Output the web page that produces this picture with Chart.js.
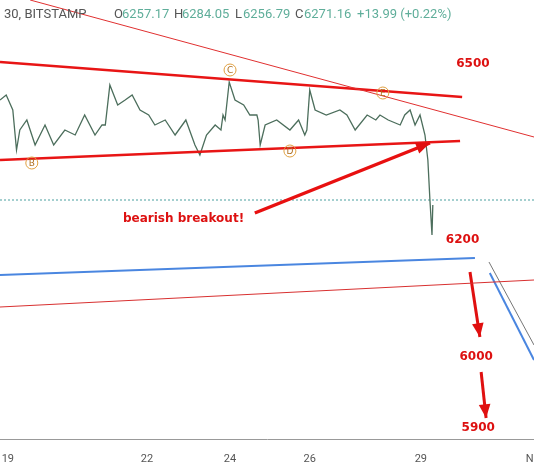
<!DOCTYPE html><html><head><script src="https://cdn.jsdelivr.net/npm/chart.js@4"></script>
<style>body{margin:0;background:#fff}#w{width:534px;height:462px}</style></head><body><div id="w"><canvas id="c"></canvas></div>
<script>
const priceDays=[18.8,18.95,19.11,19.2,19.28,19.45,19.65,19.89,20.1,20.37,20.62,20.85,21.1,21.27,21.35,21.46,21.65,21.83,22.0,22.19,22.4,22.55,22.8,23.04,23.3,23.52,23.64,23.8,24.01,24.15,24.2,24.25,24.35,24.49,24.7,24.85,25.02,25.05,25.1,25.22,25.5,25.82,26.03,26.18,26.23,26.3,26.43,26.7,27.03,27.2,27.4,27.69,27.9,28.0,28.2,28.49,28.6,28.73,28.85,28.97,29.09,29.16,29.21,29.26,29.28];
const priceVals=[6470,6480,6450,6370,6410,6430,6380,6420,6380,6410,6400,6440,6400,6420,6420,6500,6460,6470,6480,6450,6440,6420,6430,6400,6430,6380,6360,6400,6420,6410,6440,6430,6506,6470,6460,6440,6440,6430,6380,6420,6430,6410,6430,6400,6410,6490,6450,6440,6450,6440,6410,6440,6430,6440,6430,6420,6440,6450,6420,6440,6400,6350,6270,6200,6260];
const tickVals=[18.99,22.36,24.37,26.3,28.99,31.7];
const tickLabels=['19','22','24','26','29','No'];
const thinRedA=[[19.53,6670],[31.73,6396]];
const upperLine=[[18.8,6546],[29.99,6476]];
const lowerLine=[[18.8,6350],[29.94,6388]];
const blueLine=[[18.8,6120],[30.3,6154]];
const thinRedB=[[18.8,6056],[31.73,6110]];
const blueDown=[[30.66,6124],[31.73,5950]];
const grayDown=[[30.64,6146],[31.73,5980]];
const bigArrow=[[24.97,6244],[29.21,6384]];
const arrow1=[[30.18,6126],[30.42,5996]];
const arrow2=[[30.45,5926],[30.57,5834]];
const currentPrice=6270;
const waveLabels=['B','C','D','E'];
const wavePts=[[19.57,6344],[24.37,6530],[25.82,6368],[28.07,6484]];
const priceTexts=[['6500',30.25,6542],['6200',30.0,6190],['6000',30.33,5956],['5900',30.38,5814]];
const pts=a=>a.map(p=>({x:p[0],y:p[1]}));
const ln=(d,c,w)=>({type:'line',data:pts(d),borderColor:c,borderWidth:w,pointRadius:0,fill:false,tension:0});
const arrowIdx=[7,8,9];
const plug={id:'ann',afterDatasetsDraw(ch){
 const g=ch.ctx,x=ch.scales.x,y=ch.scales.y;
 arrowIdx.forEach(i=>{const d=ch.data.datasets[i].data;const x1=x.getPixelForValue(d[0].x),y1=y.getPixelForValue(d[0].y),x2=x.getPixelForValue(d[1].x),y2=y.getPixelForValue(d[1].y);
  const a=Math.atan2(y2-y1,x2-x1),L=15,W=0.4;g.fillStyle='#e01010';g.beginPath();g.moveTo(x2,y2);
  g.lineTo(x2-L*Math.cos(a-W),y2-L*Math.sin(a-W));g.lineTo(x2-L*Math.cos(a+W),y2-L*Math.sin(a+W));g.fill();});
 g.font='9px DejaVu Sans';g.textAlign='center';g.textBaseline='middle';
 wavePts.forEach((p,i)=>{const px=x.getPixelForValue(p[0]),py=y.getPixelForValue(p[1]);g.strokeStyle='#e0a040';g.lineWidth=1;g.beginPath();g.arc(px,py,6,0,7);g.stroke();g.fillStyle='#b07020';g.fillText(waveLabels[i],px,py+0.5);});
 g.font='bold 12px DejaVu Sans';g.fillStyle='#dd1111';g.textAlign='center';
 priceTexts.forEach(t=>g.fillText(t[0],x.getPixelForValue(t[1]),y.getPixelForValue(t[2])));
 g.textAlign='left';g.fillText('bearish breakout!',123,y.getPixelForValue(6232));
 g.font='13px Roboto';g.fillStyle='#555';g.fillText('30, BITSTAMP',4,15);
 const parts=[['O',114],['6257.17',122],['H',174],['6284.05',182],['L',235],['6256.79',243],['C',295],['6271.16',304],['+13.99 (+0.22%)',357]];
 parts.forEach((p,i)=>{g.fillStyle=(i<8&&i%2==0)?'#555':'#5fae9a';g.fillText(p[0],p[1],15);});
}};
new Chart(document.getElementById('c'),{type:'line',data:{datasets:[
 ln(thinRedA,'#e03030',1),ln(upperLine,'#e81515',2.5),ln(lowerLine,'#e81515',2.5),ln(blueLine,'#4a86e0',2),ln(thinRedB,'#d83030',1),
 ln(blueDown,'#4a86e0',2),ln(grayDown,'#777',1),ln(bigArrow,'#e81010',3.5),ln(arrow1,'#e01010',3),ln(arrow2,'#e01010',3),
 {type:'line',data:priceDays.map((d,i)=>({x:d,y:priceVals[i]})),borderColor:'#4c6e5c',borderWidth:1.3,pointRadius:0,tension:0},
 {type:'line',data:[{x:18.8,y:currentPrice},{x:31.8,y:currentPrice}],borderColor:'#4aa0a0',borderWidth:1,borderDash:[2,2],pointRadius:0}
]},options:{animation:false,responsive:true,maintainAspectRatio:false,layout:{padding:0},
 plugins:{legend:{display:false},tooltip:{enabled:false}},
 scales:{x:{type:'linear',min:18.8,max:31.73,grid:{display:false},border:{color:'#999'},
  afterFit:s=>{s.paddingLeft=0;s.paddingRight=0;s.height=23;},
  afterBuildTicks:a=>{a.ticks=tickVals.map(v=>({value:v}));},
  ticks:{autoSkip:false,maxRotation:0,color:'#555',font:{size:11,family:'Roboto'},padding:6,callback:v=>{const i=tickVals.indexOf(v);return i>=0?tickLabels[i]:'';}}},
  y:{display:false,min:5792,max:6670}}},plugins:[plug]});
</script></body></html>
